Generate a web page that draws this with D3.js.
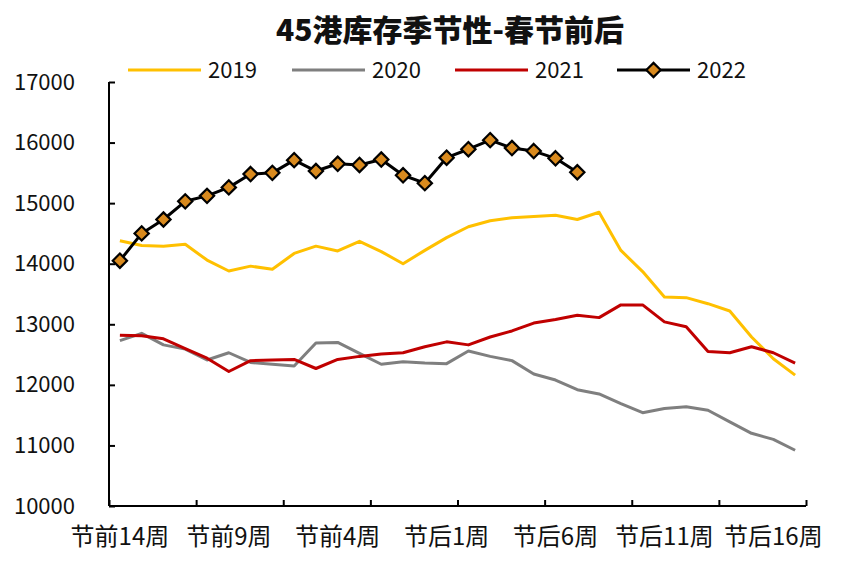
<!DOCTYPE html>
<html>
<head>
<meta charset="utf-8">
<script src="https://cdn.jsdelivr.net/npm/d3@7.9.0/dist/d3.min.js"></script>
<style>
  body { margin: 0; background: #fff; }
  svg text { font-family: "Noto Sans CJK SC", "Noto Sans", sans-serif; fill: #111; }
</style>
</head>
<body>
<div id="chart"></div>
<script>
// categories: 节前14周 ... 节前1周, 春节当周, 节后1周 ... 节后17周
const weeks = [
  '节前14周','节前13周','节前12周','节前11周','节前10周','节前9周','节前8周',
  '节前7周','节前6周','节前5周','节前4周','节前3周','节前2周','节前1周',
  '春节当周',
  '节后1周','节后2周','节后3周','节后4周','节后5周','节后6周','节后7周',
  '节后8周','节后9周','节后10周','节后11周','节后12周','节后13周','节后14周',
  '节后15周','节后16周','节后17周'
];

const y2019 = [14380, 14300, 14290, 14320, 14060, 13880, 13960, 13910, 14170, 14290,
  14210, 14370, 14200, 14000, 14220, 14430, 14610, 14710, 14760, 14780,
  14800, 14730, 14850, 14220, 13870, 13450, 13440, 13340, 13220, 12790,
  12430, 12160];
const y2020 = [12730, 12850, 12660, 12590, 12410, 12530, 12370, 12340, 12310, 12690,
  12700, 12520, 12340, 12380, 12360, 12350, 12560, 12470, 12400, 12180,
  12080, 11920, 11850, 11690, 11540, 11610, 11640, 11580, 11390, 11200,
  11100, 10920];
const y2021 = [12820, 12810, 12760, 12600, 12440, 12220, 12400, 12410, 12420, 12270,
  12420, 12470, 12510, 12530, 12630, 12710, 12660, 12790, 12890, 13020,
  13080, 13150, 13110, 13320, 13320, 13040, 12960, 12550, 12530, 12630,
  12530, 12360];
const y2022 = [14050, 14500, 14730, 15030, 15120, 15260, 15480, 15500, 15710, 15530,
  15650, 15630, 15720, 15460, 15330, 15750, 15890, 16040, 15910, 15860,
  15740, 15510];

const yTicks = [10000, 11000, 12000, 13000, 14000, 15000, 16000, 17000];

const series = [
  { name: '2019', values: y2019, color: '#FFC000', marker: false },
  { name: '2020', values: y2020, color: '#7F7F7F', marker: false },
  { name: '2021', values: y2021, color: '#C00000', marker: false },
  { name: '2022', values: y2022, color: '#000000', marker: true }
];

const width = 850, height = 576;
const margin = { top: 82, right: 44, bottom: 70, left: 109 };

const svg = d3.select('#chart').append('svg')
  .attr('width', width).attr('height', height);

const x = d3.scaleBand()
  .domain(weeks)
  .range([margin.left, width - margin.right])
  .padding(0);

const xi = d3.scaleLinear()
  .domain([0, weeks.length])
  .range(x.range());

const y = d3.scaleLinear()
  .domain([10000, 17000])
  .range([height - margin.bottom, margin.top]);

// title
svg.append('text')
  .attr('x', 450).attr('y', 41)
  .attr('text-anchor', 'middle')
  .style('font-size', '30px')
  .style('font-weight', 900)
  .text('45港库存季节性-春节前后');

// y axis
const yAxis = svg.append('g')
  .attr('transform', `translate(${margin.left},0)`)
  .call(d3.axisLeft(y).tickValues(yTicks).tickSize(-6).tickPadding(34).tickFormat(d3.format('d')));
yAxis.select('.domain').attr('stroke-width', 2).attr('d', `M0,${y(17000)}V${y(10000)}`);
yAxis.selectAll('.tick line').attr('stroke-width', 2);
yAxis.selectAll('.tick text').style('font-size', '22px');

// x axis tick marks every 4 weeks
const xTickAxis = svg.append('g')
  .attr('transform', `translate(0,${height - margin.bottom})`)
  .call(d3.axisBottom(xi).tickValues(d3.range(0, weeks.length + 1, 4)).tickSize(-6).tickFormat(''));
xTickAxis.select('.domain').attr('stroke-width', 2).attr('d', `M${xi(0)},0H${xi(weeks.length)}`);
xTickAxis.selectAll('.tick line').attr('stroke-width', 2);

// x labels every 5 weeks
const xLabelAxis = svg.append('g')
  .attr('transform', `translate(0,${height - margin.bottom})`)
  .call(d3.axisBottom(x).tickValues(weeks.filter((d, i) => i % 5 === 0)).tickSize(0).tickPadding(22));
xLabelAxis.select('.domain').remove();
xLabelAxis.selectAll('.tick text').style('font-size', '24px');

// lines
const line = d3.line()
  .x((d, i) => x(weeks[i]) + x.bandwidth() / 2)
  .y(d => y(d));

const diamond = d3.symbol().type(d3.symbolDiamond2).size(130);

series.forEach(s => {
  svg.append('path')
    .datum(s.values)
    .attr('fill', 'none')
    .attr('stroke', s.color)
    .attr('stroke-width', 3)
    .attr('stroke-linejoin', 'round')
    .attr('d', line);
  if (s.marker) {
    svg.append('g').selectAll('path')
      .data(s.values)
      .join('path')
      .attr('transform', (d, i) => `translate(${x(weeks[i]) + x.bandwidth() / 2},${y(d)})`)
      .attr('d', diamond)
      .attr('fill', '#D98A1E')
      .attr('stroke', '#000')
      .attr('stroke-width', 2.2);
  }
});

// legend
const legendX = [128, 292, 455, 617];
const legend = svg.append('g');
series.forEach((s, i) => {
  const g = legend.append('g').attr('transform', `translate(${legendX[i]},70)`);
  g.append('line')
    .attr('x1', 0).attr('x2', 73)
    .attr('stroke', s.color).attr('stroke-width', 3);
  if (s.marker) {
    g.append('path')
      .attr('transform', 'translate(36.5,0)')
      .attr('d', diamond)
      .attr('fill', '#D98A1E')
      .attr('stroke', '#000')
      .attr('stroke-width', 2.2);
  }
  g.append('text')
    .attr('x', 80).attr('y', 8)
    .style('font-size', '22px')
    .text(s.name);
});
</script>
</body>
</html>
